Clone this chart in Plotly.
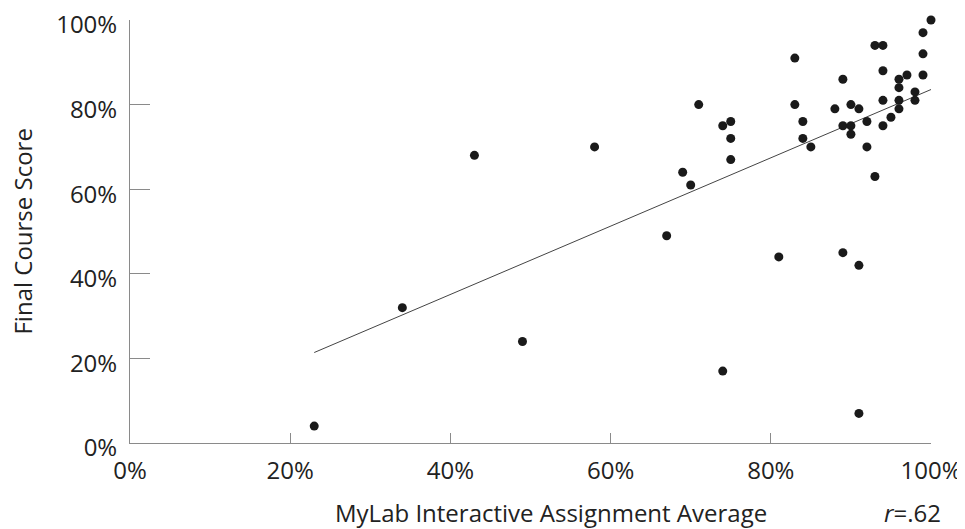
import numpy as np
import plotly.graph_objects as go

# MyLab Interactive Assignment Average (%)
assignment_avg = [23, 34, 43, 49, 58, 67, 69, 70, 71, 74, 74, 75, 75, 75, 81, 83, 83, 84, 84, 85,
                  88, 89, 89, 89, 90, 90, 90, 91, 91, 91, 92, 92, 93, 93, 94, 94, 94, 94, 95, 96,
                  96, 96, 96, 97, 98, 98, 99, 99, 99, 100]
# Final Course Score (%)
final_score = [4, 32, 68, 24, 70, 49, 64, 61, 80, 75, 17, 76, 72, 67, 44, 91, 80, 76, 72, 70,
               79, 86, 75, 45, 80, 75, 73, 79, 42, 7, 76, 70, 94, 63, 94, 88, 81, 75, 77, 86,
               84, 81, 79, 87, 83, 81, 97, 92, 87, 100]
tick_vals = [0, 20, 40, 60, 80, 100]
tick_text = ["0%", "20%", "40%", "60%", "80%", "100%"]
x_title = "MyLab Interactive Assignment Average"
y_title = "Final Course Score"
r_label = "<i>r</i>=.62"

x = np.array(assignment_avg, dtype=float)
y = np.array(final_score, dtype=float)
slope, intercept = np.polyfit(x, y, 1)
fit_x = [x.min(), x.max()]
fit_y = [intercept + slope * v for v in fit_x]

FONT = "Open Sans"
TXT = "#222222"
AX = "#8a8a8a"

# the page body adds an 8px margin, so the figure is sized 8px smaller
fig = go.Figure()
fig.add_trace(go.Scatter(x=fit_x, y=fit_y, mode="lines",
                         line=dict(color="#444444", width=1), hoverinfo="skip"))
fig.add_trace(go.Scatter(x=assignment_avg, y=final_score, mode="markers",
                         marker=dict(color="#1a1a1a", size=9), cliponaxis=False))

fig.update_layout(
    width=957, height=521,
    margin=dict(l=122, r=34, t=12, b=86),
    plot_bgcolor="white", paper_bgcolor="white",
    showlegend=False,
    font=dict(family=FONT, size=24, color=TXT),
)
fig.update_xaxes(range=[0, 100], tickmode="array", tickvals=tick_vals, ticktext=tick_text,
                 showgrid=False, zeroline=False, showline=True, linecolor=AX, linewidth=1,
                 ticks="inside", ticklen=10, tickcolor=AX, tickwidth=1, automargin=False,
                 ticklabeloverflow="allow", ticklabelstandoff=6,
                 tickfont=dict(family=FONT, size=24, color=TXT))
fig.update_yaxes(range=[0, 100], tickmode="array", tickvals=tick_vals, ticktext=tick_text,
                 showgrid=False, zeroline=False, showline=True, linecolor=AX, linewidth=1,
                 ticks="inside", ticklen=20, tickcolor=AX, tickwidth=1, automargin=False,
                 ticklabeloverflow="allow", ticklabelstandoff=7, ticklabelshift=5,
                 tickfont=dict(family=FONT, size=24, color=TXT))

fig.add_annotation(text=y_title, xref="paper", yref="paper", x=-0.1348, y=0.5,
                   textangle=-90, showarrow=False, xanchor="center", yanchor="middle",
                   font=dict(family=FONT, size=24, color=TXT))
fig.add_annotation(text=x_title, xref="paper", yref="paper", x=0.526, y=-0.165,
                   showarrow=False, xanchor="center", yanchor="middle",
                   font=dict(family=FONT, size=24, color=TXT))
fig.add_annotation(text=r_label, xref="paper", yref="paper", x=0.9775, y=-0.165,
                   showarrow=False, xanchor="center", yanchor="middle",
                   font=dict(family=FONT, size=24, color=TXT))

fig.write_html("out.html")
